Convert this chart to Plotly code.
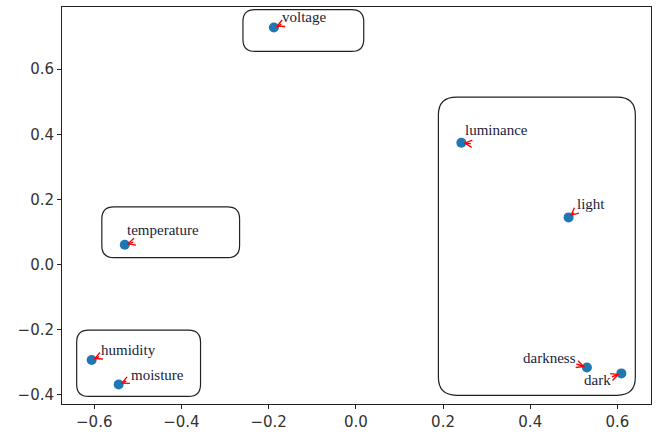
import plotly.graph_objects as go

# ---- data ----
words = ["voltage", "luminance", "light", "temperature", "humidity",
         "moisture", "darkness", "dark"]
x_vals = [-0.188, 0.242, 0.488, -0.530, -0.606, -0.544, 0.530, 0.609]
y_vals = [0.728, 0.374, 0.145, 0.061, -0.293, -0.368, -0.316, -0.334]

x_ticks = [-0.6, -0.4, -0.2, 0.0, 0.2, 0.4, 0.6]
y_ticks = [-0.4, -0.2, 0.0, 0.2, 0.4, 0.6]

groups = [["voltage"], ["temperature"], ["humidity", "moisture"],
          ["luminance", "light", "darkness", "dark"]]

# ---- styling ----
X_RANGE = [-0.674, 0.677]
Y_RANGE = [-0.428, 0.791]
W, H = 656, 435
M = dict(l=62, r=4, t=7, b=29)
px_x = (W - M["l"] - M["r"]) / (X_RANGE[1] - X_RANGE[0])
px_y = (H - M["t"] - M["b"]) / (Y_RANGE[1] - Y_RANGE[0])

# box padding (left, right, bottom, top) in pixels and corner radius
group_pad = [(31, 90, 24, 18), (23, 115, 13, 38), (15, 82, 12, 30), (23, 14, 22, 46)]
group_rad = [12, 12, 12, 18]

# label placement: (xanchor, xshift, yshift) ; arrow tail offset (ax, ay)
label_style = {
    "voltage": ("left", 6, 11, 9, -4),
    "luminance": ("left", 2, 13, 11, 1),
    "light": ("left", 6, 13, 7, -6),
    "temperature": ("left", 0, 15, 10, -3),
    "humidity": ("left", 7, 10, 9, -4),
    "moisture": ("left", 10, 9, 9, -4),
    "darkness": ("right", -9, 10, -12, -4),
    "dark": ("right", -8, -7, -11, 4),
}

fig = go.Figure()
fig.add_trace(go.Scatter(
    x=x_vals, y=y_vals, mode="markers",
    marker=dict(color="#1f77b4", size=10, line=dict(width=0)),
    showlegend=False, hoverinfo="text", text=words,
))

# rounded group boxes derived from the member points
pos = dict(zip(words, zip(x_vals, y_vals)))
for g, pad, rad in zip(groups, group_pad, group_rad):
    gx = [pos[w][0] for w in g]
    gy = [pos[w][1] for w in g]
    x0 = min(gx) - pad[0] / px_x
    x1 = max(gx) + pad[1] / px_x
    y0 = min(gy) - pad[2] / px_y
    y1 = max(gy) + pad[3] / px_y
    rx = rad / px_x
    ry = rad / px_y
    path = (f"M {x0+rx},{y1} L {x1-rx},{y1} Q {x1},{y1} {x1},{y1-ry} "
            f"L {x1},{y0+ry} Q {x1},{y0} {x1-rx},{y0} L {x0+rx},{y0} "
            f"Q {x0},{y0} {x0},{y0+ry} L {x0},{y1-ry} Q {x0},{y1} {x0+rx},{y1} Z")
    fig.add_shape(type="path", path=path, xref="x", yref="y",
                  line=dict(color="#222222", width=1.2), fillcolor="rgba(0,0,0,0)")

for w, xv, yv in zip(words, x_vals, y_vals):
    anc, xs, ys, ax, ay = label_style[w]
    fig.add_annotation(x=xv, y=yv, text=w, showarrow=False,
                       xanchor=anc, yanchor="middle", xshift=xs, yshift=ys,
                       font=dict(family="Liberation Serif", size=15, color="#1c1c3a"))
    fig.add_annotation(x=xv, y=yv, text="", showarrow=True,
                       ax=ax, ay=ay, axref="pixel", ayref="pixel",
                       arrowcolor="red", arrowwidth=1.4, arrowhead=5,
                       arrowsize=1.0, standoff=2)

axis_common = dict(showline=True, linecolor="#222222", linewidth=1, mirror=True,
                   showgrid=False, zeroline=False, ticks="outside", ticklen=4,
                   tickcolor="#222222", tickwidth=1, tickformat=".1f",
                   tickfont=dict(family="DejaVu Sans", size=15, color="#333333"))

fig.update_xaxes(range=X_RANGE, tickvals=x_ticks, **axis_common)
fig.update_yaxes(range=Y_RANGE, tickvals=y_ticks, **axis_common)

fig.update_layout(width=W, height=H, margin=M,
                  plot_bgcolor="white", paper_bgcolor="white")

fig.write_html("out.html",
               config={"displayModeBar": False},
               post_script="document.body.style.margin='0';"
                           "document.body.style.overflow='hidden';")
